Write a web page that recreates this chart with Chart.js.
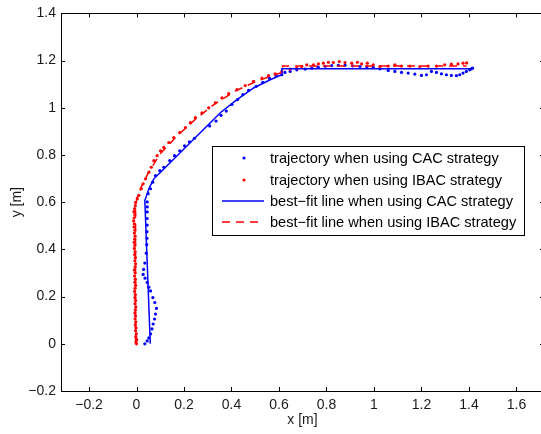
<!DOCTYPE html>
<html>
<head>
<meta charset="utf-8">
<script src="https://cdn.jsdelivr.net/npm/chart.js@4.4.1/dist/chart.umd.min.js"></script>
<style>
html, body { margin: 0; padding: 0; background: #fff; overflow: hidden; }
#wrap { position: relative; width: 548px; height: 434px; }
</style>
</head>
<body>
<div id="wrap"><canvas id="traj" width="548" height="434"></canvas></div>
<script>
// axis ticks
const xTicks = [-0.2, 0, 0.2, 0.4, 0.6, 0.8, 1, 1.2, 1.4, 1.6];
const yTicks = [-0.2, 0, 0.2, 0.4, 0.6, 0.8, 1, 1.2, 1.4];

// legend labels
const seriesLabels = [
    'trajectory when using CAC strategy',
    'trajectory when using IBAC strategy',
    'best\u2212fit line when using CAC strategy',
    'best\u2212fit line when using IBAC strategy'
];

// trajectory CAC (blue dots)
const cacTrajX = [0.035, 0.045, 0.052, 0.059, 0.065, 0.07, 0.076, 0.08, 0.084, 0.077, 0.069, 0.059, 0.052, 0.045, 0.036, 0.028, 0.03, 0.035,
    0.041, 0.043, 0.044, 0.044, 0.045, 0.045, 0.045, 0.045, 0.045, 0.049, 0.059, 0.068, 0.08, 0.098, 0.115, 0.14, 0.16, 0.182, 0.202,
    0.223, 0.244, 0.308, 0.335, 0.356, 0.378, 0.402, 0.426, 0.448, 0.472, 0.504, 0.532, 0.56, 0.588, 0.612, 0.625, 0.647, 0.675, 0.71,
    0.738, 0.765, 0.795, 0.822, 0.85, 0.878, 0.91, 0.941, 0.97, 0.997, 1.025, 1.06, 1.088, 1.116, 1.144, 1.172, 1.2, 1.221, 1.242,
    1.263, 1.284, 1.305, 1.326, 1.347, 1.361, 1.375, 1.389, 1.403, 1.41, 1.415];
const cacTrajY = [0.0, 0.012, 0.025, 0.042, 0.063, 0.084, 0.105, 0.126, 0.15, 0.175, 0.196, 0.224, 0.24, 0.26, 0.278, 0.294, 0.315, 0.342,
    0.384, 0.42, 0.447, 0.475, 0.503, 0.531, 0.559, 0.58, 0.601, 0.636, 0.657, 0.685, 0.713, 0.734, 0.748, 0.776, 0.797, 0.818, 0.839,
    0.856, 0.871, 0.923, 0.944, 0.968, 0.986, 1.014, 1.035, 1.056, 1.074, 1.091, 1.108, 1.125, 1.136, 1.14, 1.15, 1.154, 1.161, 1.164,
    1.168, 1.172, 1.176, 1.179, 1.18, 1.18, 1.178, 1.175, 1.174, 1.172, 1.165, 1.158, 1.154, 1.15, 1.147, 1.143, 1.137, 1.14, 1.154,
    1.15, 1.144, 1.14, 1.137, 1.136, 1.14, 1.147, 1.154, 1.161, 1.165, 1.168];

// trajectory IBAC (red dots)
const ibacTrajX = [0.0, -0.002, 0.001, -0.003, -0.001, -0.004, -0.002, -0.005, -0.003, -0.006, -0.004, -0.007, -0.005, -0.003, -0.006,
    -0.004, -0.007, -0.005, -0.008, -0.006, -0.004, -0.007, -0.005, -0.008, -0.006, -0.009, -0.006, -0.004, -0.007, -0.005, -0.008,
    -0.006, -0.009, -0.007, -0.01, -0.008, -0.006, -0.009, -0.007, -0.011, -0.009, -0.012, -0.01, -0.007, -0.011, -0.008, -0.005, -0.004,
    0.003, 0.01, 0.02, 0.028, 0.038, 0.052, 0.062, 0.073, 0.087, 0.101, 0.115, 0.136, 0.157, 0.182, 0.206, 0.227, 0.248, 0.276, 0.304,
    0.332, 0.36, 0.388, 0.423, 0.458, 0.493, 0.528, 0.556, 0.584, 0.612, 0.647, 0.675, 0.696, 0.717, 0.745, 0.766, 0.787, 0.808, 0.829,
    0.854, 0.878, 0.906, 0.93, 0.948, 0.972, 0.997, 1.025, 1.06, 1.088, 1.116, 1.151, 1.193, 1.228, 1.263, 1.298, 1.326, 1.354, 1.375, 1.39];
const ibacTrajY = [0.0, 0.008, 0.018, 0.03, 0.042, 0.055, 0.068, 0.08, 0.093, 0.106, 0.118, 0.131, 0.144, 0.157, 0.17,
    0.183, 0.196, 0.209, 0.222, 0.235, 0.248, 0.261, 0.274, 0.287, 0.3, 0.313, 0.326, 0.339, 0.352, 0.365, 0.378,
    0.391, 0.404, 0.417, 0.43, 0.443, 0.456, 0.469, 0.482, 0.495, 0.508, 0.521, 0.534, 0.547, 0.56, 0.573, 0.586, 0.599,
    0.615, 0.629, 0.657, 0.678, 0.699, 0.727, 0.748, 0.776, 0.797, 0.818, 0.832, 0.853, 0.874, 0.895, 0.916, 0.937, 0.958, 0.979, 1.0,
    1.021, 1.042, 1.06, 1.077, 1.094, 1.112, 1.126, 1.136, 1.144, 1.154, 1.164, 1.168, 1.175, 1.182, 1.182, 1.186, 1.189, 1.193, 1.192,
    1.196, 1.192, 1.189, 1.193, 1.186, 1.189, 1.182, 1.175, 1.177, 1.182, 1.177, 1.177, 1.175, 1.177, 1.177, 1.182, 1.185, 1.186, 1.189, 1.19];

// best-fit lines
const cacFitX = [0.058, 0.035, 0.038, 0.052, 0.073, 0.115, 0.171, 0.227, 0.297, 0.353, 0.423, 0.493, 0.563, 0.612, 0.612, 1.41];
const cacFitY = [0.0, 0.608, 0.615, 0.657, 0.699, 0.741, 0.797, 0.853, 0.923, 0.979, 1.035, 1.084, 1.119, 1.14, 1.165, 1.165];
const ibacFitX = [-0.004, -0.004, 0.005, 0.02, 0.05, 0.1, 0.17, 0.25, 0.33, 0.42, 0.5, 0.58, 0.615, 0.615, 1.39];
const ibacFitY = [0.0, 0.59, 0.625, 0.665, 0.725, 0.805, 0.88, 0.953, 1.017, 1.073, 1.11, 1.14, 1.15, 1.177, 1.177];

const BLUE = '#0000ff';
const RED = '#ff0000';
const INK = '#1a1a1a';
const FONT = { family: "'Liberation Sans', Arial, Helvetica, sans-serif", size: 14 };
const LEGEND_FONT = "14.6px 'Liberation Sans', Arial, Helvetica, sans-serif";

function toPoints(xs, ys) {
    return xs.map((x, i) => ({ x: x, y: ys[i] }));
}

function fmtTick(v) {
    return v < 0 ? '\u2212' + Math.abs(v) : String(v);
}

// boite et graduations vers l'interieur, facon matlab
const axesBox = {
    id: 'axesBox',
    afterDatasetsDraw(chart) {
        const { ctx, chartArea: a, scales } = chart;
        ctx.save();
        ctx.strokeStyle = '#000';
        ctx.lineWidth = 1;
        ctx.beginPath();
        xTicks.forEach(v => {
            const px = Math.round(scales.x.getPixelForValue(v)) + 0.5;
            ctx.moveTo(px, a.bottom); ctx.lineTo(px, a.bottom - 4);
            ctx.moveTo(px, a.top); ctx.lineTo(px, a.top + 4);
        });
        yTicks.forEach(v => {
            const py = Math.round(scales.y.getPixelForValue(v)) + 0.5;
            ctx.moveTo(a.left, py); ctx.lineTo(a.left + 4, py);
            ctx.moveTo(a.right, py); ctx.lineTo(a.right - 4, py);
        });
        ctx.stroke();
        ctx.strokeRect(Math.round(a.left) + 0.5, Math.round(a.top) + 0.5,
            Math.round(a.right - a.left), Math.round(a.bottom - a.top));
        ctx.restore();
    }
};

// legende dans le cadre
const boxLegend = {
    id: 'boxLegend',
    afterDraw(chart) {
        const ctx = chart.ctx;
        const bx = 212.5, by = 146.5, bw = 312, bh = 89;
        const rows = [158, 180, 201, 222];
        ctx.save();
        ctx.fillStyle = '#fff';
        ctx.fillRect(bx, by, bw, bh);
        ctx.strokeStyle = '#000';
        ctx.lineWidth = 1;
        ctx.strokeRect(bx, by, bw, bh);
        ctx.font = LEGEND_FONT;
        ctx.textBaseline = 'middle';
        chart.data.datasets.forEach((ds, i) => {
            const y = rows[i];
            if (ds.showLine) {
                ctx.strokeStyle = ds.borderColor;
                ctx.lineWidth = ds.borderWidth;
                ctx.setLineDash(ds.borderDash || []);
                ctx.beginPath();
                ctx.moveTo(222, y); ctx.lineTo(264, y);
                ctx.stroke();
                ctx.setLineDash([]);
            } else {
                ctx.fillStyle = ds.backgroundColor;
                ctx.beginPath();
                ctx.arc(244, y, ds.pointRadius, 0, Math.PI * 2);
                ctx.fill();
            }
            ctx.fillStyle = '#000';
            ctx.fillText(ds.label, 270, y + 1);
        });
        ctx.restore();
    }
};

new Chart(document.getElementById('traj'), {
    type: 'scatter',
    data: {
        datasets: [{
            label: seriesLabels[0],
            data: toPoints(cacTrajX, cacTrajY),
            showLine: false,
            backgroundColor: BLUE,
            borderWidth: 0,
            pointRadius: 1.6,
            order: 3
        }, {
            label: seriesLabels[1],
            data: toPoints(ibacTrajX, ibacTrajY),
            showLine: false,
            backgroundColor: RED,
            borderWidth: 0,
            pointRadius: 1.6,
            order: 2
        }, {
            label: seriesLabels[2],
            data: toPoints(cacFitX, cacFitY),
            showLine: true,
            borderColor: BLUE,
            borderWidth: 1.5,
            pointRadius: 0,
            order: 1
        }, {
            label: seriesLabels[3],
            data: toPoints(ibacFitX, ibacFitY),
            showLine: true,
            borderColor: RED,
            borderWidth: 1.5,
            borderDash: [8, 6],
            pointRadius: 0,
            order: 0
        }]
    },
    options: {
        responsive: false,
        animation: false,
        devicePixelRatio: 1,
        layout: { padding: { top: 11, right: 3, left: 0, bottom: 0 } },
        plugins: { legend: { display: false }, tooltip: { enabled: false } },
        scales: {
            x: {
                type: 'linear',
                min: -0.318,
                max: 1.716,
                afterBuildTicks: s => { s.ticks = xTicks.map(v => ({ value: v })); },
                afterFit: s => { s.height = 43; },
                grid: { display: false, drawTicks: false },
                border: { display: false },
                ticks: { autoSkip: false, maxRotation: 0, padding: 6, color: INK, font: FONT, callback: fmtTick },
                title: { display: true, text: 'x [m]', color: INK, font: FONT, padding: { top: 0, bottom: 5 } }
            },
            y: {
                type: 'linear',
                min: -0.2,
                max: 1.4,
                afterBuildTicks: s => { s.ticks = yTicks.map(v => ({ value: v })); },
                afterFit: s => { s.width = 61; },
                grid: { display: false, drawTicks: false },
                border: { display: false },
                ticks: { autoSkip: false, padding: 5, color: INK, font: FONT, callback: fmtTick },
                title: { display: true, text: 'y [m]', color: INK, font: FONT, padding: { top: 9, bottom: 0 } }
            }
        }
    },
    plugins: [axesBox, boxLegend]
});
</script>
</body>
</html>
